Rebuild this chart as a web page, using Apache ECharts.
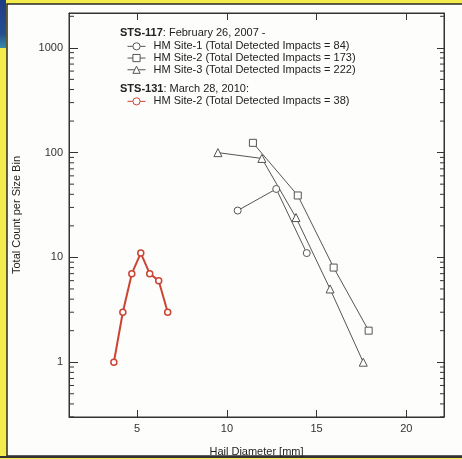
<!DOCTYPE html>
<html>
<head>
<meta charset="utf-8">
<script src="https://cdn.jsdelivr.net/npm/echarts@6/dist/echarts.min.js"></script>
<style>
html,body{margin:0;padding:0;background:#f4ec4c;}
#c{width:462px;height:459px;}
</style>
</head>
<body>
<div id="c"></div>
<script>
// ---- data ----
const xTickValues = [5, 10, 15, 20];
const yMinorTicks = [0.3,0.4,0.5,0.6,0.7,0.8,0.9,2,3,4,5,6,7,8,9,20,30,40,50,60,70,80,90,200,300,400,500,600,700,800,900,2000];

const site1Name = 'HM Site-1 (Total Detected Impacts = 84)';
const site1X = [10.6, 12.75, 14.45];
const site1Y = [28, 45, 11];

const site2Name = 'HM Site-2 (Total Detected Impacts = 173)';
const site2X = [11.45, 13.95, 15.95, 17.9];
const site2Y = [124, 39, 8, 2];

const site3Name = 'HM Site-3 (Total Detected Impacts = 222)';
const site3X = [9.5, 11.95, 13.85, 15.75, 17.6];
const site3Y = [100, 88, 24, 5, 1];

const sts131Name = 'HM Site-2 (Total Detected Impacts = 38)';
const sts131X = [3.7, 4.2, 4.7, 5.2, 5.7, 6.2, 6.7];
const sts131Y = [1, 3, 7, 11, 7, 6, 3];

const X_MIN = 1.2, X_MAX = 22.1, Y_MIN = 0.3, Y_MAX = 2150;
const FONT = 'Liberation Sans, Arial, sans-serif';
const GRAY = '#555';
const RED = '#cc4433';

function pairs(xs, ys){ return xs.map((x,i)=>[x, ys[i]]); }

function graySeries(name, xs, ys, symbol, size){
  return {
    name, type:'line', data: pairs(xs, ys), symbol, symbolSize: size,
    lineStyle:{color:GRAY, width:1}, itemStyle:{color:'#fff', borderColor:GRAY, borderWidth:1},
    emphasis:{disabled:true}, z:3
  };
}

const legendCommon = {
  orient:'vertical', left:127, padding:0, itemGap:0, itemWidth:18, itemHeight:9,
  selectedMode:false, lineStyle:{width:1}, itemStyle:{borderWidth:1},
  textStyle:{fontSize:11, lineHeight:11.7, color:'#222', fontFamily:FONT, padding:[0,0,0,3]}
};

const chart = echarts.init(document.getElementById('c'));
chart.setOption({
  animation:false,
  backgroundColor:'#f4ec4c',
  textStyle:{fontFamily:FONT},
  graphic:[
    {type:'rect', shape:{x:7, y:4, width:460, height:452}, style:{fill:'#fdfdfb', stroke:'#2a2a2a', lineWidth:1.5}, z:-10, silent:true},
    {type:'rect', shape:{x:0, y:456, width:462, height:2}, style:{fill:'#333'}, z:-9, silent:true},
    {type:'rect', shape:{x:0, y:0, width:6, height:48}, style:{fill:{type:'linear', x:0, y:0, x2:0, y2:1, colorStops:[{offset:0,color:'#1f3b86'},{offset:0.7,color:'#24508f'},{offset:1,color:'#3a8aa8'}]}}, z:-8, silent:true},
    {type:'text', left:120, top:27, style:{
      text:'{b|STS-117}: February 26, 2007 -', fill:'#222', font:'11px '+FONT,
      rich:{b:{fontWeight:'bold', fontSize:11, fontFamily:FONT, fill:'#222'}}
    }, z:10},
    {type:'text', left:120, top:83, style:{
      text:'{b|STS-131}: March 28, 2010:', fill:'#222', font:'11px '+FONT,
      rich:{b:{fontWeight:'bold', fontSize:11, fontFamily:FONT, fill:'#222'}}
    }, z:10}
  ],
  legend:[
    Object.assign({}, legendCommon, {top:40.5, data:[site1Name, site2Name, site3Name]}),
    Object.assign({}, legendCommon, {top:95.5, data:[sts131Name]})
  ],
  grid:{left:69, top:13, right:18, bottom:42, outerBoundsMode:'none', containLabel:false,
        show:true, backgroundColor:'#fdfdfb', borderColor:'#333', borderWidth:1},
  xAxis:[
    {type:'value', min:X_MIN, max:X_MAX, position:'bottom',
     name:'Hail Diameter [mm]', nameLocation:'middle', nameGap:29,
     nameTextStyle:{fontSize:11, color:'#222', fontFamily:FONT},
     axisLine:{lineStyle:{color:'#333'}},
     axisTick:{inside:true, length:7, customValues:xTickValues, lineStyle:{color:'#333'}},
     axisLabel:{customValues:xTickValues, fontSize:11, color:'#333', margin:6, fontFamily:FONT},
     splitLine:{show:false}},
    {type:'value', min:X_MIN, max:X_MAX, position:'top',
     axisLine:{lineStyle:{color:'#333'}},
     axisTick:{inside:true, length:7, customValues:xTickValues, lineStyle:{color:'#333'}},
     axisLabel:{show:false}, splitLine:{show:false}}
  ],
  yAxis:[
    {type:'log', logBase:10, min:Y_MIN, max:Y_MAX, position:'left',
     name:'Total Count per Size Bin', nameLocation:'middle', nameGap:47,
     nameTextStyle:{fontSize:11, color:'#222', fontFamily:FONT},
     axisLine:{lineStyle:{color:'#333'}},
     axisTick:{inside:true, length:9, lineStyle:{color:'#333'}},
     axisLabel:{fontSize:11, color:'#333', margin:6, fontFamily:FONT, showMinLabel:false, showMaxLabel:false,
                formatter:function(v){ return String(Math.round(v)); }},
     splitLine:{show:false}},
    {type:'log', logBase:10, min:Y_MIN, max:Y_MAX, position:'right',
     axisLine:{lineStyle:{color:'#333'}},
     axisTick:{inside:true, length:7, lineStyle:{color:'#333'}},
     axisLabel:{show:false}, splitLine:{show:false}}
  ],
  series:[
    {type:'custom', name:'minorTicks', silent:true, clip:false, z:2,
     data: yMinorTicks.map(v=>[5, v]),
     renderItem:function(params, api){
       const cs = params.coordSys;
       const y = api.coord([5, api.value(1)])[1];
       const l = cs.x, r = cs.x + cs.width;
       return {type:'group', children:[
         {type:'line', shape:{x1:l, y1:y, x2:l+5, y2:y}, style:{stroke:'#333', lineWidth:1}},
         {type:'line', shape:{x1:r, y1:y, x2:r-4, y2:y}, style:{stroke:'#333', lineWidth:1}}
       ]};
     }},
    graySeries(site1Name, site1X, site1Y, 'circle', 7),
    graySeries(site2Name, site2X, site2Y, 'rect', 7),
    graySeries(site3Name, site3X, site3Y, 'triangle', 8),
    {name:sts131Name, type:'line', data:pairs(sts131X, sts131Y), symbol:'circle', symbolSize:6,
     lineStyle:{color:RED, width:2}, itemStyle:{color:'#fff', borderColor:RED, borderWidth:1.5},
     emphasis:{disabled:true}, z:4}
  ]
});
</script>
</body>
</html>
